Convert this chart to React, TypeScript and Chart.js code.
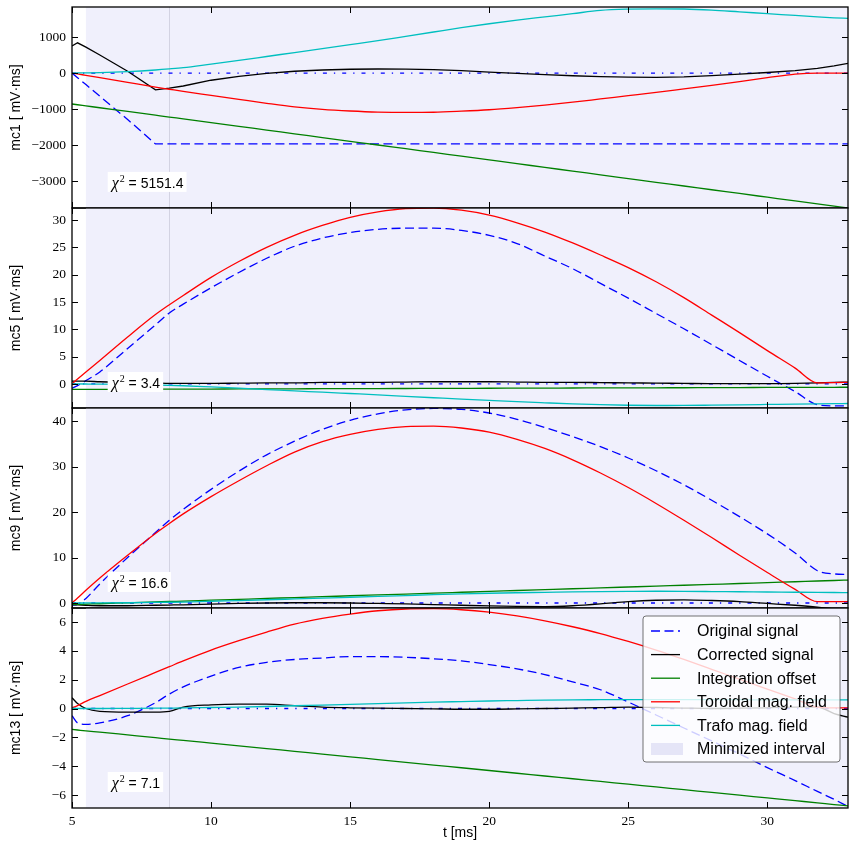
import { useEffect, useRef } from 'react';
import { Chart, registerables } from 'chart.js';

Chart.register(...registerables);

// ---------------- data ----------------
const timeMs = [5, 5.2, 5.5, 6, 7, 8, 8.5, 9, 10, 11, 12, 13, 14, 15, 16, 17, 18, 19, 20, 21, 22, 23, 24, 25, 26, 27, 28, 29, 30, 31, 31.8, 32.4, 32.9];
const timeRange = [5, 32.9];
const timeTicks = [5, 10, 15, 20, 25, 30];
const minimizedInterval = [5.5, 32.9];
const markerTime = 8.5;
const zeroLineTime = [5, 32.9];
const zeroLineValue = [0, 0];

const seriesLabels = ['Original signal', 'Corrected signal', 'Integration offset', 'Toroidal mag. field', 'Trafo mag. field'];
const intervalLabel = 'Minimized interval';
const panelNames = ['mc1', 'mc5', 'mc9', 'mc13'];
const chiSquared = ['5151.4', '3.4', '16.6', '7.1'];

const mc1Range = [-3750, 1835];
const mc1Ticks = [-3000, -2000, -1000, 0, 1000];
const mc1Original = [0, -130, -320, -645, -1290, -1970, -1970, -1970, -1970, -1970, -1970, -1970, -1970, -1970, -1970, -1970, -1970, -1970, -1970, -1970, -1970, -1970, -1970, -1970, -1970, -1970, -1970, -1970, -1970, -1970, -1970, -1970, -1970];
const mc1Corrected = [750, 840, 720, 500, 50, -465, -420, -360, -200, -90, -10, 50, 85, 105, 112, 108, 95, 65, 25, -10, -45, -75, -100, -115, -122, -108, -70, -28, 15, 65, 130, 200, 270];
const mc1Offset = [-860, -881, -912, -964, -1067, -1171, -1223, -1274, -1378, -1482, -1585, -1689, -1792, -1896, -2000, -2103, -2207, -2310, -2414, -2518, -2621, -2725, -2828, -2932, -3036, -3139, -3243, -3346, -3450, -3554, -3637, -3699, -3750];
const mc1Toroidal = [0, -25, -65, -130, -260, -390, -450, -510, -620, -730, -840, -940, -1010, -1055, -1085, -1095, -1090, -1060, -1020, -960, -890, -810, -720, -630, -540, -440, -340, -240, -130, -30, 0, 0, 0];
const mc1Trafo = [0, 2, 5, 12, 40, 85, 115, 150, 250, 350, 460, 570, 680, 790, 900, 1020, 1140, 1260, 1370, 1470, 1560, 1650, 1740, 1775, 1785, 1780, 1750, 1700, 1650, 1600, 1560, 1535, 1520];

const mc5Range = [-4.4, 32.2];
const mc5Ticks = [0, 5, 10, 15, 20, 25, 30];
const mc5Original = [-0.8, -0.3, 0.6, 2.2, 6.5, 10.8, 13.0, 14.6, 17.6, 20.4, 23.0, 25.2, 26.7, 27.7, 28.3, 28.5, 28.5, 28.1, 27.2, 25.7, 23.4, 21.1, 18.4, 15.7, 12.9, 10.1, 7.2, 4.3, 1.4, -1.4, -3.8, -4.0, -4.0];
const mc5Corrected = [0.5, 0.5, 0.5, 0.4, 0.3, 0.2, 0.1, 0.1, 0.1, 0.15, 0.2, 0.2, 0.3, 0.3, 0.3, 0.35, 0.4, 0.4, 0.4, 0.35, 0.3, 0.3, 0.25, 0.2, 0.15, 0.1, 0.05, 0.05, 0.05, 0.1, 0.2, 0.3, 0.35];
const mc5Offset = [-1.0, -1.0, -0.99, -0.99, -0.97, -0.96, -0.95, -0.94, -0.93, -0.91, -0.9, -0.89, -0.87, -0.86, -0.84, -0.83, -0.81, -0.8, -0.79, -0.77, -0.76, -0.74, -0.73, -0.71, -0.7, -0.69, -0.67, -0.66, -0.64, -0.63, -0.62, -0.61, -0.6];
const mc5Toroidal = [0, 0.9, 2.2, 4.3, 8.6, 12.7, 14.5, 16.2, 19.5, 22.4, 25.0, 27.2, 29.0, 30.5, 31.5, 32.1, 32.2, 31.8, 30.9, 29.5, 27.8, 25.8, 23.6, 21.3, 18.7, 15.8, 12.6, 9.4, 6.1, 2.9, 0.2, 0.25, 0.3];
const mc5Trafo = [0, 0, -0.01, -0.03, -0.09, -0.19, -0.25, -0.33, -0.55, -0.78, -1.02, -1.27, -1.5, -1.75, -2.0, -2.26, -2.52, -2.78, -3.02, -3.25, -3.45, -3.64, -3.8, -3.9, -3.94, -3.93, -3.88, -3.82, -3.75, -3.68, -3.63, -3.6, -3.58];

const mc9Range = [-1.1, 42.9];
const mc9Ticks = [0, 10, 20, 30, 40];
const mc9Original = [-0.5, -0.3, 1.0, 4.2, 10.0, 15.5, 18.2, 20.6, 25.0, 29.0, 32.6, 35.6, 38.2, 40.2, 41.6, 42.5, 42.8, 42.6, 41.8, 40.4, 38.6, 36.6, 34.4, 31.9, 29.1, 26.0, 22.6, 19.0, 15.2, 11.0, 7.1, 6.4, 6.3];
const mc9Corrected = [-0.3, -0.4, -0.5, -0.6, -0.6, -0.5, -0.45, -0.4, -0.25, -0.1, 0, 0.05, 0.05, 0, -0.1, -0.2, -0.35, -0.5, -0.65, -0.75, -0.8, -0.6, -0.2, 0.3, 0.6, 0.7, 0.55, 0.3, -0.1, -0.5, -0.9, -1.3, -1.6];
const mc9Offset = [-0.35, -0.31, -0.25, -0.16, 0.04, 0.23, 0.33, 0.42, 0.62, 0.81, 1.0, 1.2, 1.39, 1.59, 1.78, 1.97, 2.17, 2.36, 2.55, 2.75, 2.94, 3.13, 3.33, 3.52, 3.71, 3.91, 4.1, 4.29, 4.49, 4.68, 4.84, 4.95, 5.05];
const mc9Toroidal = [0, 1.1, 2.8, 5.5, 10.5, 15.3, 17.5, 19.6, 23.4, 26.9, 30.2, 33.2, 35.5, 37.1, 38.2, 38.8, 38.9, 38.5, 37.6, 36.0, 34.0, 31.5, 28.6, 25.4, 21.9, 18.2, 14.4, 10.5, 6.7, 3.0, 0.3, 0.3, 0.3];
const mc9Trafo = [0, 0, 0.01, 0.02, 0.06, 0.12, 0.16, 0.21, 0.38, 0.54, 0.71, 0.89, 1.07, 1.26, 1.45, 1.64, 1.83, 2.0, 2.15, 2.26, 2.35, 2.45, 2.52, 2.56, 2.58, 2.56, 2.52, 2.47, 2.42, 2.37, 2.33, 2.31, 2.3];

const mc13Range = [-6.9, 6.97];
const mc13Ticks = [-6, -4, -2, 0, 2, 4, 6];
const mc13Original = [-0.5, -1.0, -1.1, -1.0, -0.5, 0.4, 1.0, 1.5, 2.25, 2.85, 3.2, 3.4, 3.5, 3.6, 3.6, 3.55, 3.45, 3.3, 3.05, 2.75, 2.35, 1.85, 1.3, 0.45, -0.45, -1.35, -2.25, -3.15, -4.1, -5.0, -5.75, -6.3, -6.8];
const mc13Corrected = [0.75, 0.35, 0.0, -0.2, -0.25, -0.25, -0.2, 0.1, 0.25, 0.3, 0.3, 0.2, 0.1, 0.05, 0.02, 0.0, -0.02, -0.05, -0.05, -0.03, 0.0, 0.03, 0.06, 0.1, 0.07, 0.03, 0.0, 0.02, 0.05, 0.1, 0.1, -0.35, -0.6];
const mc13Offset = [-1.45, -1.49, -1.55, -1.64, -1.83, -2.02, -2.12, -2.21, -2.4, -2.59, -2.78, -2.97, -3.16, -3.35, -3.54, -3.73, -3.92, -4.11, -4.3, -4.49, -4.68, -4.87, -5.06, -5.25, -5.44, -5.63, -5.82, -6.01, -6.2, -6.39, -6.54, -6.66, -6.75];
const mc13Toroidal = [0.05, 0.2, 0.5, 0.9, 1.7, 2.5, 2.9, 3.3, 4.05, 4.7, 5.3, 5.85, 6.25, 6.55, 6.78, 6.9, 6.92, 6.85, 6.68, 6.42, 6.08, 5.67, 5.2, 4.65, 4.05, 3.4, 2.72, 2.03, 1.35, 0.67, 0.1, 0.05, 0.05];
const mc13Trafo = [0, 0, 0, 0, 0.01, 0.02, 0.03, 0.04, 0.07, 0.1, 0.14, 0.19, 0.24, 0.29, 0.34, 0.39, 0.44, 0.48, 0.52, 0.55, 0.58, 0.6, 0.61, 0.62, 0.62, 0.62, 0.61, 0.61, 0.6, 0.6, 0.6, 0.6, 0.6];

// ---------------- styles ----------------
const SANS = '"Liberation Sans", Arial, sans-serif';
const SERIF = '"Liberation Serif", "Times New Roman", serif';
const SERIES_STYLES = [
  { color: '#0000ff', dash: [9, 4.5] },
  { color: '#000000', dash: [] as number[] },
  { color: '#008000', dash: [] as number[] },
  { color: '#ff0000', dash: [] as number[] },
  { color: '#00bfbf', dash: [] as number[] },
];
const ZERO_STYLE = { color: '#0000ff', dash: [4, 7, 1.3, 7] };
const SHADE = 'rgb(240,240,252)';
const LEGEND_PATCH = 'rgb(229,229,247)';
const LINE_W = 1.3;
const TICK_LEN = 6;

const PANELS = [
  { name: panelNames[0], chi: chiSquared[0], range: mc1Range, ticks: mc1Ticks, sharp: [0, 1], series: [mc1Original, mc1Corrected, mc1Offset, mc1Toroidal, mc1Trafo] },
  { name: panelNames[1], chi: chiSquared[1], range: mc5Range, ticks: mc5Ticks, sharp: [] as number[], series: [mc5Original, mc5Corrected, mc5Offset, mc5Toroidal, mc5Trafo] },
  { name: panelNames[2], chi: chiSquared[2], range: mc9Range, ticks: mc9Ticks, sharp: [] as number[], series: [mc9Original, mc9Corrected, mc9Offset, mc9Toroidal, mc9Trafo] },
  { name: panelNames[3], chi: chiSquared[3], range: mc13Range, ticks: mc13Ticks, sharp: [] as number[], series: [mc13Original, mc13Corrected, mc13Offset, mc13Toroidal, mc13Trafo] },
];

// layout (page pixels)
const PANEL_TOPS = [7, 208, 408, 608];
const PANEL_BOTTOMS = [208, 408, 608, 808];
const PAD = 16;
const X_AXIS_H = 38;
const Y_AXIS_W = 72;
const RIGHT_PAD = 10;
const WIDTH = 858;

const fmt = (v: number) => {
  const s = String(Math.abs(v));
  return v < 0 ? '\u2212' + s : s;
};

const decorPlugin = {
  id: 'panelDecor',
  beforeDatasetsDraw(chart: any) {
    const { ctx, chartArea: a, scales } = chart;
    const x = scales.x;
    ctx.save();
    const xs = x.getPixelForValue(minimizedInterval[0]);
    const xe = x.getPixelForValue(minimizedInterval[1]);
    ctx.fillStyle = SHADE;
    ctx.fillRect(xs, a.top, Math.min(xe, a.right) - xs, a.bottom - a.top);
    const xv = Math.round(x.getPixelForValue(markerTime)) + 0.5;
    ctx.strokeStyle = '#d3d3e2';
    ctx.lineWidth = 1;
    ctx.beginPath();
    ctx.moveTo(xv, a.top);
    ctx.lineTo(xv, a.bottom);
    ctx.stroke();
    ctx.restore();
  },
  afterDatasetsDraw(chart: any, _args: any, opts: any) {
    const { ctx, chartArea: a, scales } = chart;
    const x = scales.x;
    const y = scales.y;
    const w = a.right - a.left;
    const h = a.bottom - a.top;
    ctx.save();

    // chi^2 label
    const x0 = a.left + 0.046 * w;
    const yb = a.bottom - 0.08 * h;
    ctx.font = `italic 16px ${SERIF}`;
    const wChi = ctx.measureText('\u03c7').width;
    ctx.font = `10px ${SERIF}`;
    const w2 = ctx.measureText('2').width;
    ctx.font = `14px ${SANS}`;
    const rest = ' = ' + opts.chi;
    const wRest = ctx.measureText(rest).width;
    const boxW = 4 + wChi + 1 + w2 + wRest + 3;
    ctx.fillStyle = '#ffffff';
    ctx.fillRect(x0, yb - 20, boxW, 20);
    ctx.fillStyle = '#000';
    ctx.textBaseline = 'alphabetic';
    ctx.textAlign = 'left';
    const base = yb - 4;
    ctx.font = `italic 16px ${SERIF}`;
    ctx.fillText('\u03c7', x0 + 4, base);
    ctx.font = `10px ${SERIF}`;
    ctx.fillText('2', x0 + 4 + wChi + 1, base - 6);
    ctx.font = `14px ${SANS}`;
    ctx.fillText(rest, x0 + 4 + wChi + 1 + w2, base);

    // legend
    if (opts.showLegend) {
      const LW = 197;
      const LH = 146;
      const lx = a.right - 8 - LW;
      const ly = a.top + 8;
      ctx.beginPath();
      const r = 3;
      ctx.moveTo(lx + r, ly);
      ctx.lineTo(lx + LW - r, ly);
      ctx.arcTo(lx + LW, ly, lx + LW, ly + r, r);
      ctx.lineTo(lx + LW, ly + LH - r);
      ctx.arcTo(lx + LW, ly + LH, lx + LW - r, ly + LH, r);
      ctx.lineTo(lx + r, ly + LH);
      ctx.arcTo(lx, ly + LH, lx, ly + LH - r, r);
      ctx.lineTo(lx, ly + r);
      ctx.arcTo(lx, ly, lx + r, ly, r);
      ctx.closePath();
      ctx.fillStyle = 'rgba(255,255,255,0.8)';
      ctx.fill();
      ctx.strokeStyle = 'rgba(90,90,90,0.85)';
      ctx.lineWidth = 1;
      ctx.stroke();

      const labels = [...seriesLabels, intervalLabel];
      ctx.font = `16px ${SANS}`;
      ctx.textBaseline = 'middle';
      labels.forEach((lab, i) => {
        const cy = ly + 15 + i * 23.6;
        if (i < SERIES_STYLES.length) {
          const st = SERIES_STYLES[i];
          ctx.strokeStyle = st.color;
          ctx.lineWidth = LINE_W;
          ctx.setLineDash(st.dash);
          ctx.beginPath();
          ctx.moveTo(lx + 8, cy);
          ctx.lineTo(lx + 37, cy);
          ctx.stroke();
          ctx.setLineDash([]);
        } else {
          ctx.fillStyle = LEGEND_PATCH;
          ctx.fillRect(lx + 8, cy - 6, 32, 12);
        }
        ctx.fillStyle = '#000';
        ctx.fillText(lab, lx + 54, cy + 1);
      });
    }

    // inward ticks + frame
    ctx.setLineDash([]);
    ctx.strokeStyle = '#000';
    ctx.lineWidth = 1;
    ctx.beginPath();
    (opts.yTicks as number[]).forEach((v) => {
      const py = Math.round(y.getPixelForValue(v)) + 0.5;
      ctx.moveTo(a.left, py);
      ctx.lineTo(a.left + TICK_LEN, py);
      ctx.moveTo(a.right - TICK_LEN, py);
      ctx.lineTo(a.right, py);
    });
    timeTicks.forEach((v) => {
      const px = Math.round(x.getPixelForValue(v)) + 0.5;
      ctx.moveTo(px, a.top);
      ctx.lineTo(px, a.top + TICK_LEN);
      ctx.moveTo(px, a.bottom - TICK_LEN);
      ctx.lineTo(px, a.bottom);
    });
    ctx.stroke();
    ctx.lineWidth = 1.3;
    ctx.strokeRect(a.left, a.top, w, h);
    ctx.restore();
  },
};

function buildDatasets(series: number[][], sharp: number[]) {
  const main = series.map((vals, i) => ({
    label: seriesLabels[i],
    data: timeMs.map((t, k) => ({ x: t, y: vals[k] })),
    borderColor: SERIES_STYLES[i].color,
    borderWidth: LINE_W,
    borderDash: SERIES_STYLES[i].dash,
    pointRadius: 0,
    pointHoverRadius: 0,
    fill: false,
    tension: 0,
    cubicInterpolationMode: sharp.includes(i) ? 'default' : 'monotone',
  }));
  const zero = {
    label: 'zero',
    data: zeroLineTime.map((t, k) => ({ x: t, y: zeroLineValue[k] })),
    borderColor: ZERO_STYLE.color,
    borderWidth: LINE_W,
    borderDash: ZERO_STYLE.dash,
    pointRadius: 0,
    pointHoverRadius: 0,
    fill: false,
  };
  // first dataset is drawn on top in Chart.js: reverse to mimic plotting order
  return [...main].reverse().concat([zero]);
}

export default function App() {
  const refs = [useRef<HTMLCanvasElement>(null), useRef<HTMLCanvasElement>(null), useRef<HTMLCanvasElement>(null), useRef<HTMLCanvasElement>(null)];

  useEffect(() => {
    const charts: Chart[] = [];
    PANELS.forEach((p, idx) => {
      const canvas = refs[idx].current;
      if (!canvas) return;
      const last = idx === PANELS.length - 1;
      const chart = new Chart(canvas, {
        type: 'line',
        data: { datasets: buildDatasets(p.series, p.sharp) as any },
        options: {
          responsive: false,
          maintainAspectRatio: false,
          animation: false,
          events: [],
          layout: { autoPadding: false, padding: { top: PAD, bottom: last ? 0 : PAD, left: 0, right: RIGHT_PAD } },
          plugins: {
            legend: { display: false },
            tooltip: { enabled: false },
            panelDecor: { chi: p.chi, showLegend: last, yTicks: p.ticks },
          } as any,
          scales: {
            x: {
              type: 'linear',
              min: timeRange[0],
              max: timeRange[1],
              display: last,
              grid: { display: false, drawTicks: false },
              border: { display: false },
              ticks: {
                color: '#000',
                font: { family: SERIF, size: 13.5 },
                padding: 5,
                maxRotation: 0,
                autoSkip: false,
                callback: (v: any) => fmt(Number(v)),
              },
              title: { display: true, text: 't [ms]', color: '#000', font: { family: SANS, size: 14 }, padding: { top: 0, bottom: 4 } },
              afterBuildTicks: (s: any) => {
                s.ticks = timeTicks.map((v) => ({ value: v }));
              },
              afterFit: (s: any) => {
                s.height = last ? X_AXIS_H : 0;
              },
            },
            y: {
              type: 'linear',
              min: p.range[0],
              max: p.range[1],
              grid: { display: false, drawTicks: false },
              border: { display: false },
              ticks: {
                color: '#000',
                font: { family: SERIF, size: 13.5 },
                padding: 6,
                autoSkip: false,
                callback: (v: any) => fmt(Number(v)),
              },
              title: { display: true, text: `${p.name} [ mV\u00b7ms]`, color: '#000', font: { family: SANS, size: 14 }, padding: { top: 8, bottom: 0 } },
              afterBuildTicks: (s: any) => {
                s.ticks = p.ticks.map((v) => ({ value: v }));
              },
              afterFit: (s: any) => {
                s.width = Y_AXIS_W;
              },
            },
          },
        } as any,
        plugins: [decorPlugin],
      });
      charts.push(chart);
    });
    return () => charts.forEach((c) => c.destroy());
  }, []);

  return (
    <div style={{ position: 'fixed', left: 0, top: 0, width: WIDTH, height: 853, background: '#fff', overflow: 'hidden' }}>
      {PANELS.map((p, idx) => {
        const last = idx === PANELS.length - 1;
        const top = PANEL_TOPS[idx] - PAD;
        const height = PANEL_BOTTOMS[idx] - PANEL_TOPS[idx] + PAD + (last ? X_AXIS_H : PAD);
        return (
          <canvas
            key={p.name}
            ref={refs[idx]}
            width={WIDTH}
            height={height}
            style={{ position: 'absolute', left: 0, top, width: WIDTH, height, display: 'block' }}
          />
        );
      })}
    </div>
  );
}
